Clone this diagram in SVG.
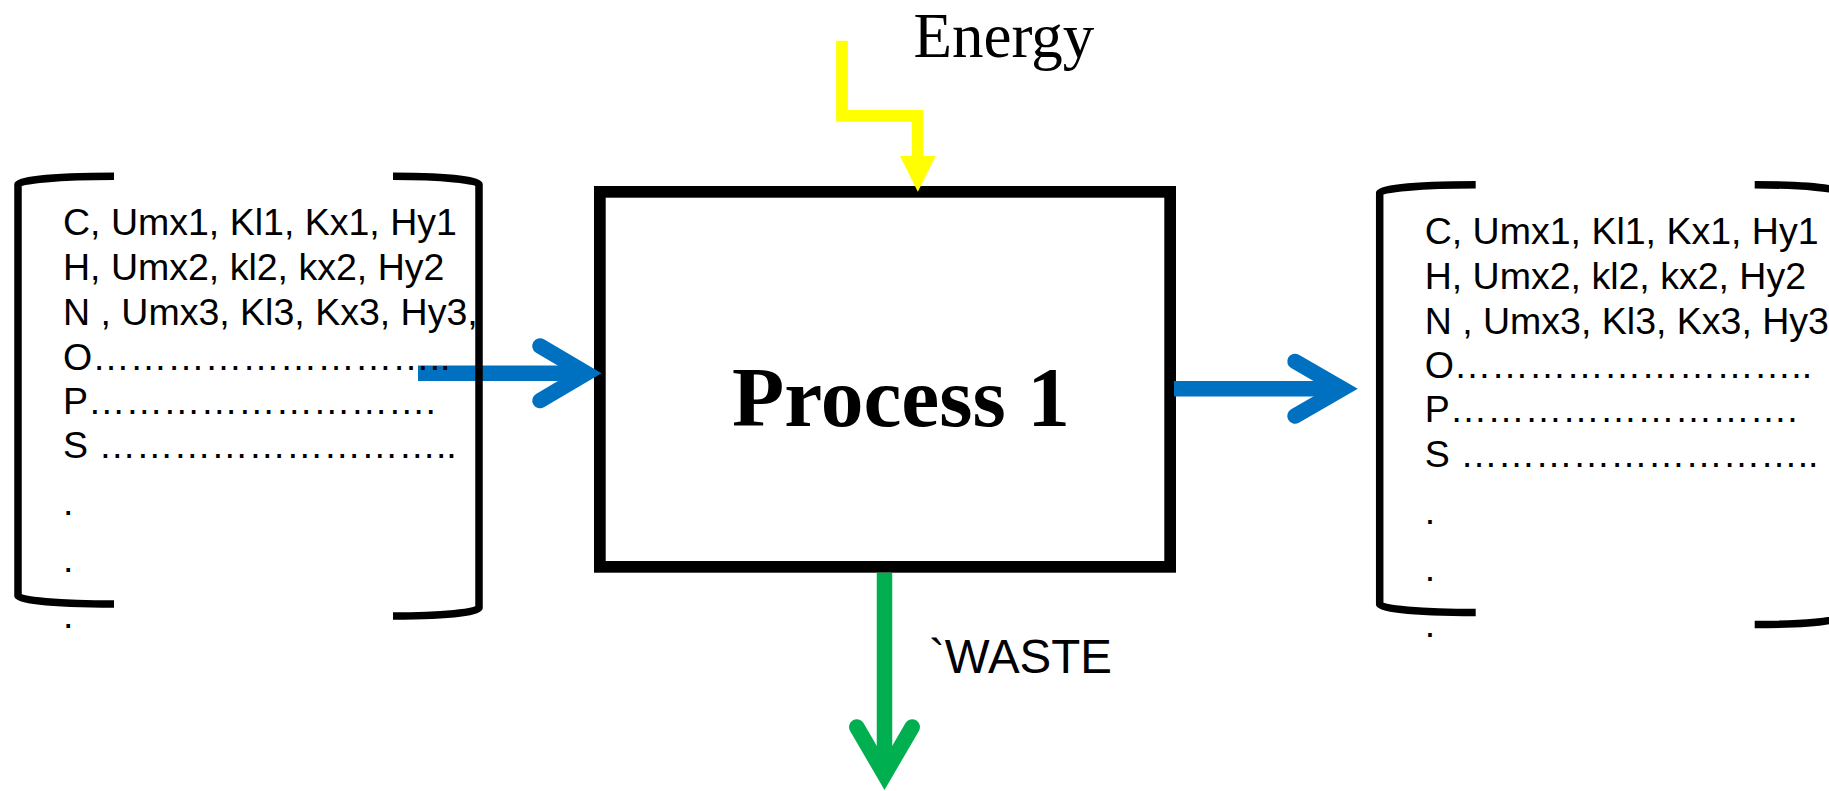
<svg xmlns="http://www.w3.org/2000/svg" width="1829" height="791" viewBox="0 0 1829 791">
  <style>
    .list{font-family:"Liberation Sans",Arial,sans-serif;font-size:37.5px;fill:#000}
    .brk{fill:none;stroke:#000;stroke-width:7.5}
    .flow{fill:none;stroke-width:15.5;stroke-linejoin:miter;stroke-miterlimit:10}
    .head{stroke-linecap:round}
    .blue{stroke:#0070C0}
    .green{stroke:#00B050}
    .energy{fill:none;stroke:#FFFF00;stroke-width:11.7;stroke-linejoin:miter}
  </style>
  <rect width="1829" height="791" fill="#fff"/>

  <!-- central process block -->
  <g id="process">
    <rect x="599.85" y="191.85" width="570.3" height="375" fill="#fff" stroke="#000" stroke-width="11.7"/>
    <text x="732" y="426" font-family="'Liberation Serif','Times New Roman',serif" font-weight="bold" font-size="85.5">Process 1</text>
  </g>

  <!-- flows into and out of the process -->
  <g id="connectors">
    <!-- input stream -->
    <path class="flow blue" d="M418,373.3 H587"/>
    <path class="flow blue head" d="M540,346 L586.3,373.3 L540,400.6"/>
    <!-- output stream -->
    <path class="flow blue" d="M1174,388.7 H1343"/>
    <path class="flow blue head" d="M1295,361.4 L1342.3,388.7 L1295,416"/>
    <!-- waste stream -->
    <path class="flow green" d="M884.5,572.7 V775"/>
    <path class="flow green head" d="M856.8,727 L884.5,774.6 L912.2,727"/>
    <!-- energy supply -->
    <path class="energy" d="M842,40.7 V115.8 H917.6 V157"/>
    <polygon points="900,156 935.7,156 917.8,191.7" fill="#FFFF00"/>
  </g>

  <g id="energy-label">
    <text x="913.5" y="57" font-family="'Liberation Serif','Times New Roman',serif" font-size="63">Energy</text>
  </g>

  <g id="waste-label">
    <text x="929" y="673.3" font-family="'Liberation Sans',Arial,sans-serif" font-size="47.5">`WASTE</text>
  </g>

  <!-- input composition vector -->
  <g id="input-list">
    <path class="brk" d="M114,176.3 A96,8 0 0 0 18,184.3 L18,596 A96,8 0 0 0 114,604"/>
    <path class="brk" d="M393,176.3 A86,8 0 0 1 479,184.3 L479,608 A86,8 0 0 1 393,616"/>
    <text class="list">
      <tspan x="63" y="235">C, Umx1, Kl1, Kx1, Hy1</tspan>
      <tspan x="63" y="280">H, Umx2, kl2, kx2, Hy2</tspan>
      <tspan x="63" y="325">N , Umx3, Kl3, Kx3, Hy3,</tspan>
      <tspan x="63" y="369.5">O………………………..</tspan>
      <tspan x="63" y="413.5">P……………………….</tspan>
      <tspan x="63" y="458">S ………………………..</tspan>
      <tspan x="63" y="515">.</tspan>
      <tspan x="63" y="572">.</tspan>
      <tspan x="63" y="628">.</tspan>
    </text>
  </g>

  <!-- output composition vector -->
  <g id="output-list" transform="translate(1361.7,8.5)">
    <path class="brk" d="M114,176.3 A96,8 0 0 0 18,184.3 L18,596 A96,8 0 0 0 114,604"/>
    <path class="brk" d="M393,176.3 A86,8 0 0 1 479,184.3 L479,608 A86,8 0 0 1 393,616"/>
    <text class="list">
      <tspan x="63" y="235">C, Umx1, Kl1, Kx1, Hy1</tspan>
      <tspan x="63" y="280">H, Umx2, kl2, kx2, Hy2</tspan>
      <tspan x="63" y="325">N , Umx3, Kl3, Kx3, Hy3</tspan>
      <tspan x="63" y="369.5">O………………………..</tspan>
      <tspan x="63" y="413.5">P……………………….</tspan>
      <tspan x="63" y="458">S ………………………..</tspan>
      <tspan x="63" y="515">.</tspan>
      <tspan x="63" y="572">.</tspan>
      <tspan x="63" y="628">.</tspan>
    </text>
  </g>
</svg>
